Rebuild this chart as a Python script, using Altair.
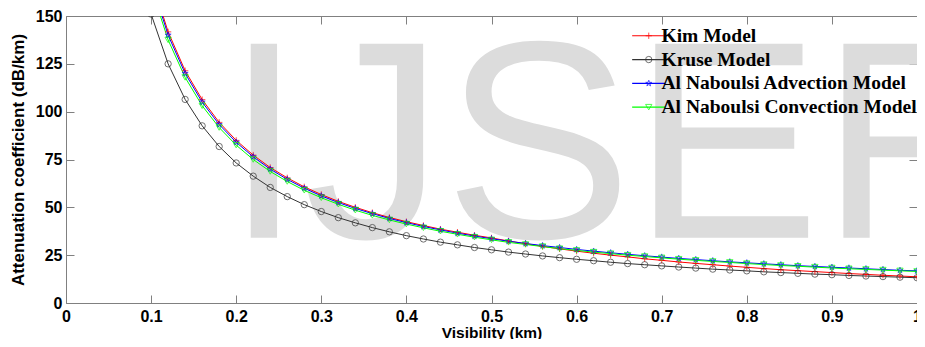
import altair as alt
import pandas as pd

visibility = [0.10, 0.12, 0.14, 0.16, 0.18, 0.20, 0.22, 0.24, 0.26, 0.28,
              0.30, 0.32, 0.34, 0.36, 0.38, 0.40, 0.42, 0.44, 0.46, 0.48,
              0.50, 0.52, 0.54, 0.56, 0.58, 0.60, 0.62, 0.64, 0.66, 0.68,
              0.70, 0.72, 0.74, 0.76, 0.78, 0.80, 0.82, 0.84, 0.86, 0.88,
              0.90, 0.92, 0.94, 0.96, 0.98, 1.00]

kim = [170.0, 141.7, 121.4, 106.3, 94.4, 85.0, 77.3, 70.8, 65.4, 60.7,
       56.7, 53.1, 50.0, 47.2, 44.7, 42.5, 40.5, 38.6, 37.0, 35.4,
       34.0, 32.4, 31.0, 29.6, 28.3, 27.1, 26.0, 25.0, 24.1, 23.1,
       22.3, 21.45, 20.7, 20.0, 19.3, 18.65, 18.0, 17.4, 16.9, 16.4,
       15.9, 15.4, 14.95, 14.5, 14.1, 13.7]

kruse = [151.0, 125.0, 106.4, 92.6, 81.8, 73.2, 66.3, 60.4, 55.6, 51.4,
         47.8, 44.6, 41.9, 39.4, 37.2, 35.2, 33.45, 31.8, 30.4, 29.0,
         27.8, 26.6, 25.6, 24.6, 23.7, 22.85, 22.1, 21.3, 20.6, 20.0,
         19.4, 18.8, 18.25, 17.7, 17.25, 16.8, 16.3, 15.9, 15.5, 15.1,
         14.8, 14.4, 14.1, 13.8, 13.5, 13.2]

advection = [168.0, 140.0, 120.0, 105.0, 93.3, 84.0, 76.4, 70.0, 64.6, 60.0,
             56.0, 52.5, 49.4, 46.7, 44.2, 42.0, 40.0, 38.2, 36.5, 35.0,
             33.6, 32.3, 31.1, 30.0, 29.0, 28.0, 27.1, 26.25, 25.45, 24.7,
             24.0, 23.3, 22.7, 22.1, 21.5, 21.0, 20.5, 20.0, 19.5, 19.1,
             18.7, 18.3, 17.9, 17.5, 17.1, 16.8]

convection = [165.0, 137.5, 117.9, 103.1, 91.7, 82.5, 75.0, 68.75, 63.5, 58.9,
              55.0, 51.6, 48.5, 45.8, 43.4, 41.25, 39.3, 37.5, 35.9, 34.4,
              33.0, 31.7, 30.6, 29.5, 28.4, 27.5, 26.6, 25.8, 25.0, 24.3,
              23.6, 22.9, 22.3, 21.7, 21.2, 20.6, 20.1, 19.6, 19.2, 18.75,
              18.3, 17.9, 17.55, 17.2, 16.8, 16.5]

series_names = ["Kim Model", "Kruse Model",
                "Al Naboulsi Advection Model", "Al Naboulsi Convection Model"]
series_colors = ["#ff0000", "#333333", "#0000ff", "#00ff00"]
series_shapes = [
    "M-1,0H1M0,-1V1",
    "circle",
    "M0,-1L0.2245,-0.309L0.951,-0.309L0.363,0.118L0.588,0.809L0,0.382"
    "L-0.588,0.809L-0.363,0.118L-0.951,-0.309L-0.2245,-0.309Z",
    "triangle-down",
]

x_ticks = [0, 0.1, 0.2, 0.3, 0.4, 0.5, 0.6, 0.7, 0.8, 0.9, 1]
y_ticks = [0, 25, 50, 75, 100, 125, 150]

watermark_text = ["IJSER"]
watermark_x = [0.1865]
watermark_y = [34.1]

rows = []
for name, values in zip(series_names, [kim, kruse, advection, convection]):
    for v, a in zip(visibility, values):
        rows.append({"visibility": v, "attenuation": a, "model": name, "model2": name})
df = pd.DataFrame(rows)

wm = pd.DataFrame({"visibility": watermark_x, "attenuation": watermark_y, "text": watermark_text})

W, H = 851, 287

xs = alt.Scale(domain=[0, 1], nice=False, zero=False)
ys = alt.Scale(domain=[0, 150], nice=False)

x_axis = alt.Axis(values=x_ticks, format="~g", title="Visibility (km)",
                  labelFont="Liberation Sans", labelFontWeight="bold", labelFontSize=16,
                  labelColor="#000000", labelPadding=5, labelFlush=False,
                  ticks=False, domain=False,
                  grid=True, gridColor="#808080", gridWidth=1, gridOpacity=1,
                  gridDash=[8, H - 16, 8, 2000],
                  titleFont="Liberation Sans", titleFontWeight="bold", titleFontSize=15.5,
                  titleColor="#000000", titleBaseline="alphabetic", titleY=34)
y_axis = alt.Axis(values=y_ticks, title="Attenuation coefficient (dB/km)",
                  labelFont="Liberation Sans", labelFontWeight="bold", labelFontSize=16,
                  labelColor="#000000", labelPadding=4, labelFlush=False,
                  ticks=False, domain=False,
                  grid=True, gridColor="#808080", gridWidth=1, gridOpacity=1,
                  gridDash=[8, W - 16, 8, 3000],
                  titleFont="Liberation Sans", titleFontWeight="bold", titleFontSize=17,
                  titleColor="#000000", titlePadding=8)

X = alt.X("visibility:Q", scale=xs, axis=x_axis)
Y = alt.Y("attenuation:Q", scale=ys, axis=y_axis)

watermark = alt.Chart(wm).mark_text(
    font="Liberation Sans", fontSize=282, color="#dcdcdc",
    align="left", baseline="alphabetic"
).encode(x=alt.X("visibility:Q", scale=xs), y=alt.Y("attenuation:Q", scale=ys),
         text="text:N")

legend_common = dict(orient="none", title=None, padding=0,
                     labelFont="Liberation Serif", labelFontWeight="bold",
                     labelFontSize=19.5, labelColor="#000000", labelLimit=500,
                     rowPadding=2.8, labelOffset=3, legendX=573, legendY=10)

lines = alt.Chart(df).mark_line(clip=True, strokeWidth=1).encode(
    x=X, y=Y,
    color=alt.Color("model:N", sort=series_names,
                    scale=alt.Scale(domain=series_names, range=series_colors),
                    legend=alt.Legend(symbolType="M-5,0H5", symbolSize=44,
                                      symbolStrokeWidth=1.2, **legend_common)),
)

points = alt.Chart(df).mark_point(clip=True, filled=False, size=40, strokeWidth=1).encode(
    x=X, y=Y,
    stroke=alt.Stroke("model2:N", sort=series_names,
                      scale=alt.Scale(domain=series_names, range=series_colors),
                      legend=alt.Legend(symbolSize=40, symbolStrokeWidth=1,
                                        labelOpacity=0, **legend_common)),
    shape=alt.Shape("model2:N", sort=series_names,
                    scale=alt.Scale(domain=series_names, range=series_shapes),
                    legend=alt.Legend(symbolSize=40, symbolStrokeWidth=1,
                                      labelOpacity=0, **legend_common)),
)

chart = alt.layer(watermark, lines, points).resolve_scale(
    color="independent"
).properties(
    width=W, height=H,
    autosize=alt.AutoSizeParams(type="none"),
    padding={"left": 58, "top": 8, "right": 0, "bottom": 36},
    background="#ffffff",
).configure_view(stroke="#808080", strokeWidth=1)

chart.save("out.html", embed_options={"renderer": "svg", "actions": False})
